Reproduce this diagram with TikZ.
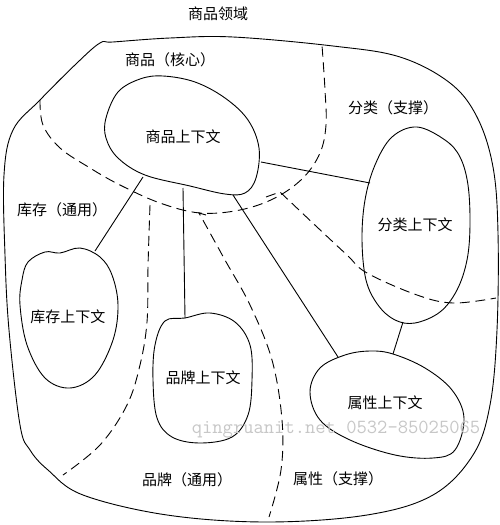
\documentclass[tikz,border=0pt]{standalone}
\usepackage{fontspec}
\newfontfamily\cjk{Noto Sans CJK SC}
\begin{document}
\begin{tikzpicture}[x=1pt,y=-1pt,
  line/.style={line width=0.9pt,black},
  blob/.style={line width=0.9pt,black},
  bound/.style={line width=0.9pt,black,dash pattern=on 10pt off 5.5pt},
  lbl/.style={font=\cjk\fontsize{15}{15}\selectfont,inner sep=0pt},
  wm/.style={font=\ttfamily\fontsize{20}{20}\selectfont,text=black!22,inner sep=0pt}]
\useasboundingbox (0,0) rectangle (500,525);
\fill[white] (0,0) rectangle (500,525);

% title
\node[lbl] (title) at (218,14) {商品领域};

% outer domain boundary
\draw[blob] plot[smooth cycle,tension=0.6] coordinates {
 (100,43) (113,42) (170,38) (233,37) (333,46) (400,57) (450,83) (477,117)
 (493,167) (498,233) (497,330) (490,405) (473,455) (433,495) (367,515)
 (267,522) (167,515) (83,495) (48,470) (30,450) (20,425) (9,330) (5,255)
 (4,175) (13,130) (40,100) (77,63)};

% dashed subdomain boundaries
\draw[bound] plot[smooth,tension=0.6] coordinates {
 (40,100) (43,125) (60,148) (90,168) (120,185) (160,203) (200,213)
 (240,210) (275,198) (303,178) (320,153) (326,125) (325,90) (322,45)};
\draw[bound] (266,197) -- plot[smooth,tension=0.6] coordinates {
 (280,192) (317,227) (347,255) (367,273) (417,295) (453,303) (496,298)};
\draw[bound] (206,215) -- plot[smooth,tension=0.6] coordinates {
 (199,213) (225,260) (250,305) (272,360) (282,420) (281,470) (269,517)};
\draw[bound] plot[smooth,tension=0.6] coordinates {
 (150,205) (148,267) (147,322) (140,365) (127,405) (100,445) (63,475)};

% context blobs
\draw[blob] plot[smooth cycle,tension=0.6] coordinates {
 (106,118) (118,92) (140,79) (163,76) (195,82) (225,98) (248,120) (259,148)
 (256,178) (245,193) (225,194) (190,186) (145,175) (118,158) (106,138)};
\draw[blob] plot[smooth cycle,tension=0.6] coordinates {
 (417,127) (445,140) (460,157) (468,185) (470,225) (467,260) (457,290)
 (440,312) (415,323) (395,320) (378,305) (366,280) (362,240) (365,200)
 (375,165) (392,137)};
\draw[blob] plot[smooth cycle,tension=0.6] coordinates {
 (28,262) (45,252) (60,253) (80,248) (100,257) (112,275) (118,305) (113,340)
 (95,375) (70,388) (45,378) (27,345) (20,305) (22,280)};
\draw[blob] plot[smooth cycle,tension=0.6] coordinates {
 (165,321) (185,318) (210,313) (235,322) (250,345) (252,380) (248,415)
 (232,437) (200,443) (172,437) (157,418) (153,380) (155,345)};
\draw[blob] plot[smooth cycle,tension=0.6] coordinates {
 (310,392) (320,368) (345,355) (370,351) (393,354) (425,368) (452,390)
 (464,418) (455,450) (433,458) (395,455) (350,440) (320,420)};

% context labels
\node[lbl] (core) at (183,137) {商品上下文};
\node[lbl] (cat) at (415,225) {分类上下文};
\node[lbl] (stock) at (68,317) {库存上下文};
\node[lbl] (brand) at (203,378) {品牌上下文};
\node[lbl] (attr) at (385,403) {属性上下文};

% subdomain labels
\node[lbl] (coreSub) at (170,60) {商品（核心）};
\node[lbl] (catSub) at (393,108) {分类（支撑）};
\node[lbl] (stockSub) at (62,210) {库存（通用）};
\node[lbl] (brandSub) at (187,480) {品牌（通用）};
\node[lbl] (attrSub) at (338,479) {属性（支撑）};

% connector end points on blob outlines
\coordinate (coreS) at (143,177);
\coordinate (coreB) at (183,188);
\coordinate (coreA) at (233,195);
\coordinate (coreC) at (261,162);
\coordinate (stockT) at (95,251);
\coordinate (brandT) at (185,318);
\coordinate (attrT) at (338,357);
\coordinate (catL) at (370,183);
\coordinate (catB) at (403,322);
\coordinate (attrT2) at (393,354);

\draw[line] (coreS) -- (stockT);
\draw[line] (coreB) -- (brandT);
\draw[line] (coreA) -- (attrT);
\draw[line] (coreC) -- (catL);
\draw[line] (catB) -- (attrT2);

% watermark
\node[wm] (mark) at (336,430) {qingruanit.net 0532-85025065};
\end{tikzpicture}
\end{document}
